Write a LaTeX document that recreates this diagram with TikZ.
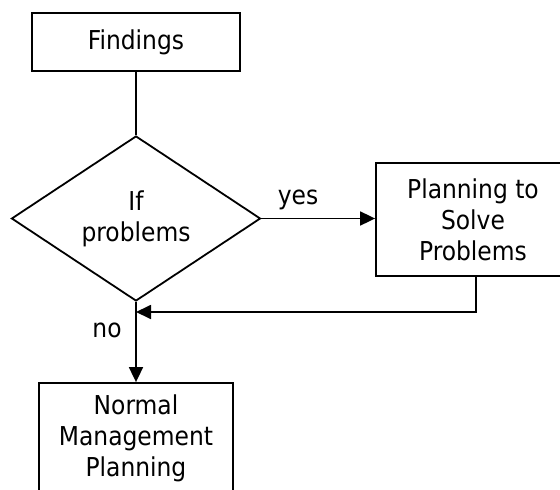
\documentclass[tikz,border=0pt]{standalone}
\usepackage{fontspec}
\setmainfont{DejaVu Sans Condensed}
\usetikzlibrary{shapes.geometric,arrows.meta}
\tikzset{
  box/.style={draw, rectangle, align=center, inner sep=0pt},
  decision/.style={draw, diamond, align=center, inner sep=0pt, aspect=1.5},
  flow/.style={-{Triangle[length=15pt,width=14pt]}}
}
\begin{document}
\begin{tikzpicture}[x=1pt, y=-1pt, line width=1.8pt,
    font=\fontsize{26}{31}\selectfont]
  \useasboundingbox (0,0) rectangle (560,490);
  \node[box, minimum width=208pt, minimum height=58pt] (find) at (136,42) {Findings};
  \node[decision, minimum width=249pt, minimum height=165pt] (cond) at (136,218.5) {If\\problems};
  \node[box, minimum width=194pt, minimum height=113pt] (plan) at (473,219.5) {Planning to\\Solve\\Problems};
  \node[box, minimum width=194pt, minimum height=110pt] (normal) at (136,438) {Normal\\Management\\Planning};
  \coordinate (turn) at (476,312);
  \draw (find) -- (cond);
  \draw[flow] (cond.east) -- (cond.east -| plan.west);
  \draw[flow] (plan.south -| turn) -- (turn) -- (turn -| cond.south);
  \draw[flow] (cond.south) -- (normal.north);
  \node at (298,200) {yes};
  \node at (107,330) {no};
\end{tikzpicture}
\end{document}
